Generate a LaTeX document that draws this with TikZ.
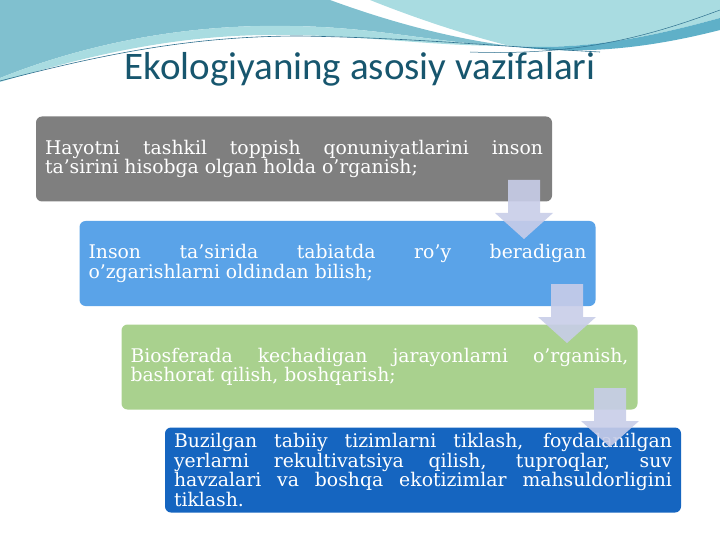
\documentclass[tikz,border=0pt]{standalone}
\usepackage{fontspec}
\setmainfont{DejaVu Serif}
\newfontfamily\titlefont{Carlito}
\usetikzlibrary{positioning}
\hyphenpenalty=10000
\definecolor{wavedark}{HTML}{80C0CF}
\definecolor{wavelight}{HTML}{A9DCE1}
\definecolor{wavestrip}{HTML}{5FB0C8}
\definecolor{waveline}{HTML}{2D6F8E}
\definecolor{titleteal}{HTML}{17566E}
\definecolor{boxgray}{HTML}{7F7F7F}
\definecolor{boxsky}{HTML}{5AA3E8}
\definecolor{boxgreen}{HTML}{A9D18E}
\definecolor{boxblue}{HTML}{1565C0}
\definecolor{arrowfill}{HTML}{C8CDE8}

\begin{document}
\begin{tikzpicture}[x=1pt, y=-1pt,
      stepbox/.style={rectangle, rounded corners=6pt, text=white, text width=498pt,
        inner xsep=9pt, inner ysep=2pt, minimum height=85pt, align=justify,
        font=\fontsize{18.8}{19.5}\selectfont},
      flowarrow/.style={fill=arrowfill, fill opacity=0.9}]

  \useasboundingbox (0,0) rectangle (720,540);

  % fon: yuqoridagi to'lqinlar
  \fill[wavedark] (0,0) -- (330,0) .. controls (390,22) and (450,38) .. (510,46)
    .. controls (440,44) and (380,27) .. (290,26) .. controls (190,24) and (90,42) .. (0,78) -- cycle;
  \fill[wavelight] (370,0) -- (720,0) -- (720,18) .. controls (640,40) and (580,50) .. (510,46)
    .. controls (470,36) and (420,20) .. (370,0) -- cycle;
  \fill[wavestrip] (510,46) .. controls (580,50) and (640,40) .. (720,18) -- (720,30)
    .. controls (650,48) and (580,56) .. (510,46) -- cycle;
  \fill[wavelight] (0,78) .. controls (90,42) and (190,24) .. (290,26) .. controls (380,27) and (440,44) .. (510,46)
    .. controls (430,46) and (370,36) .. (290,35) .. controls (180,33) and (90,55) .. (0,82) -- cycle;
  \draw[waveline, line width=0.6pt] (0,81) .. controls (100,55) and (190,36) .. (300,36)
    .. controls (420,38) and (520,48) .. (600,52);
  \draw[waveline, line width=0.5pt] (470,52) .. controls (580,56) and (650,36) .. (720,10);

  % sarlavha
  \node[anchor=base, text=titleteal, font=\titlefont\fontsize{39}{44}\selectfont] (title) at (360,80)
    {Ekologiyaning asosiy vazifalari};

  % bosqichlar
  \node[stepbox, fill=boxgray] (b1) at (294,159)
    {Hayotni tashkil toppish qonuniyatlarini inson\linebreak ta’sirini hisobga olgan holda o’rganish;};
  \node[stepbox, fill=boxsky] (b2) at (337.5,263.5)
    {Inson ta’sirida tabiatda ro’y beradigan\linebreak o’zgarishlarni oldindan bilish;};
  \node[stepbox, fill=boxgreen] (b3) at (379.5,367)
    {Biosferada kechadigan jarayonlarni o’rganish,\linebreak bashorat qilish, boshqarish;};
  \node[stepbox, fill=boxblue] (b4) at (423,470)
    {Buzilgan tabiiy tizimlarni tiklash, foydalanilgan\linebreak yerlarni rekultivatsiya qilish, tuproqlar, suv\linebreak havzalari va boshqa ekotizimlar mahsuldorligini\linebreak tiklash.};

  % strelkalar
  \foreach \ax/\ay in {524/180, 567/284, 610/388}
    \fill[flowarrow] (\ax-16,\ay) -- (\ax+16,\ay) -- (\ax+16,\ay+33) -- (\ax+29,\ay+33)
      -- (\ax,\ay+59) -- (\ax-29,\ay+33) -- (\ax-16,\ay+33) -- cycle;
\end{tikzpicture}
\end{document}
